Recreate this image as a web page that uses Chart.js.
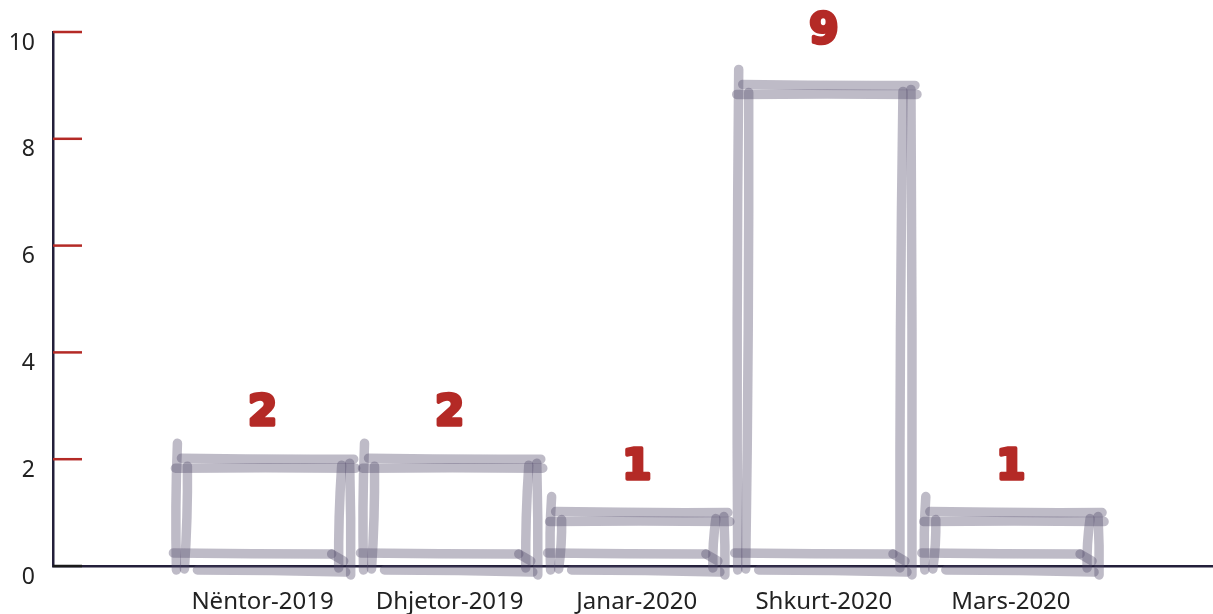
<!DOCTYPE html>
<html>
<head>
<meta charset="utf-8">
<script src="https://cdn.jsdelivr.net/npm/chart.js@4.4.1/dist/chart.umd.min.js"></script>
<style>
  html, body { margin: 0; padding: 0; background: #fff; }
  canvas { display: block; }
</style>
</head>
<body>
<canvas id="chart" width="1213" height="614"></canvas>
<script>
const months = ['Nëntor-2019', 'Dhjetor-2019', 'Janar-2020', 'Shkurt-2020', 'Mars-2020'];
const counts = [2, 2, 1, 9, 1];
const yTicks = [0, 2, 4, 6, 8, 10];

const axisColor = '#231f3a';
const tickRed = '#b42a26';
const sketchColor = 'rgba(84, 76, 108, 0.38)';

// hand-drawn look: each edge drawn twice, offsets in px relative to the bar box
function roughLine(ctx, x1, y1, x2, y2, bow) {
  const mx = (x1 + x2) / 2, my = (y1 + y2) / 2;
  const len = Math.hypot(x2 - x1, y2 - y1) || 1;
  const nx = -(y2 - y1) / len, ny = (x2 - x1) / len;
  ctx.beginPath();
  ctx.moveTo(x1, y1);
  ctx.quadraticCurveTo(mx + nx * bow, my + ny * bow, x2, y2);
  ctx.stroke();
}

const sketchBars = {
  id: 'sketchBars',
  beforeDatasetsDraw(chart) {
    const ctx = chart.ctx;
    const y = chart.scales.y;
    const left = chart.chartArea.left;
    ctx.save();
    ctx.lineWidth = 2.5;
    yTicks.forEach(v => {
      const py = y.getPixelForValue(v);
      ctx.strokeStyle = v === 0 ? '#1a1a1a' : tickRed;
      ctx.beginPath();
      ctx.moveTo(left, py);
      ctx.lineTo(left + 29, py);
      ctx.stroke();
    });
    ctx.restore();
  },
  afterDatasetsDraw(chart) {
    const ctx = chart.ctx;
    const meta = chart.getDatasetMeta(0);
    ctx.save();
    ctx.strokeStyle = sketchColor;
    ctx.lineWidth = 9.5;
    ctx.lineCap = 'round';
    ctx.lineJoin = 'round';
    meta.data.forEach((bar, i) => {
      const L = bar.x - bar.width / 2, R = bar.x + bar.width / 2;
      const T = bar.y, B = bar.base;
      roughLine(ctx, L + 4, T - 1, R + 6, T, 1);
      roughLine(ctx, L - 2, T + 9, R + 8, T + 9, -1);
      roughLine(ctx, L, T - 16, L - 1, B + 4, 2);
      roughLine(ctx, L + 10, T + 7, L + 7, B + 3, -2);
      roughLine(ctx, R - 6, T + 6, R - 9, B + 2, 2);
      roughLine(ctx, R + 2, T + 4, R + 3, B + 9, -1);
      roughLine(ctx, L - 4, B - 13, R - 16, B - 12, 0.5);
      roughLine(ctx, R - 16, B - 12, R - 4, B - 5, 0);
      roughLine(ctx, L + 20, B + 4, R - 2, B + 6, -1);

      ctx.save();
      ctx.fillStyle = tickRed;
      ctx.strokeStyle = tickRed;
      ctx.lineWidth = 3.5;
      ctx.lineJoin = 'round';
      ctx.font = '900 42px "DejaVu Sans"';
      ctx.textAlign = 'center';
      ctx.textBaseline = 'middle';
      const label = String(counts[i]);
      const ly = T - 43 - counts[i] * 1.2;
      ctx.strokeText(label, bar.x, ly);
      ctx.fillText(label, bar.x, ly);
      ctx.restore();
    });
    ctx.restore();
  }
};

new Chart(document.getElementById('chart'), {
  type: 'bar',
  data: {
    datasets: [{
      data: months.map((m, i) => ({ x: i, y: counts[i] })),
      backgroundColor: 'rgba(0,0,0,0)',
      borderWidth: 0,
      categoryPercentage: 1,
      barPercentage: 0.91
    }]
  },
  options: {
    responsive: false,
    animation: false,
    layout: { padding: { top: 32, right: 0, left: 0, bottom: 0 } },
    plugins: {
      legend: { display: false },
      tooltip: { enabled: false }
    },
    scales: {
      x: {
        type: 'linear',
        offset: false,
        min: -1.12,
        max: 5.08,
        grid: { display: false, drawTicks: false },
        border: { display: true, color: axisColor, width: 2.5 },
        afterBuildTicks: s => { s.ticks = months.map((m, i) => ({ value: i })); },
        afterFit: s => { s.height = 48; },
        ticks: {
          padding: 22,
          color: '#222',
          font: { family: '"Noto Sans"', size: 24 },
          maxRotation: 0,
          callback: v => months[v] ?? ''
        }
      },
      y: {
        min: 0,
        max: 10,
        grid: { display: false, drawTicks: false },
        border: { display: true, color: axisColor, width: 2.5 },
        afterBuildTicks: s => { s.ticks = yTicks.map(v => ({ value: v })); },
        afterFit: s => { s.width = 53; },
        ticks: {
          padding: 18,
          labelOffset: 11,
          color: '#222',
          font: { family: '"Noto Sans"', size: 23 }
        }
      }
    }
  },
  plugins: [sketchBars]
});
</script>
</body>
</html>
